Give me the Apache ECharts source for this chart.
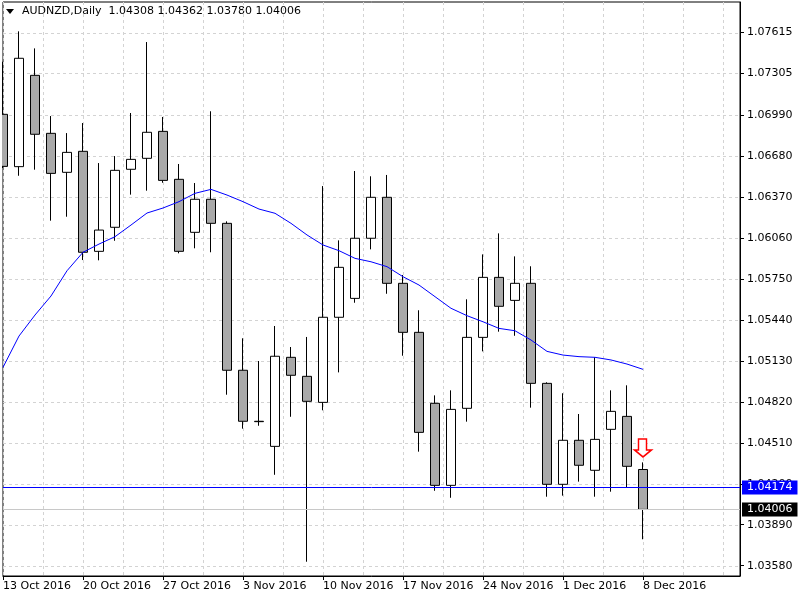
<!DOCTYPE html>
<html><head><meta charset="utf-8">
<script src="https://cdn.jsdelivr.net/npm/echarts@6/dist/echarts.min.js"></script>
<style>html,body{margin:0;padding:0;background:#fff}#c{width:800px;height:600px}</style>
</head><body><div id="c"></div>
<script>
const symbolName = 'AUDNZD';
const timeframe = 'Daily';
const dates = ['13 Oct 2016','14 Oct 2016','17 Oct 2016','18 Oct 2016','19 Oct 2016','20 Oct 2016','21 Oct 2016','24 Oct 2016','25 Oct 2016','26 Oct 2016','27 Oct 2016','28 Oct 2016','31 Oct 2016',
'1 Nov 2016','2 Nov 2016','3 Nov 2016','4 Nov 2016','7 Nov 2016','8 Nov 2016','9 Nov 2016','10 Nov 2016','11 Nov 2016','14 Nov 2016','15 Nov 2016','16 Nov 2016','17 Nov 2016','18 Nov 2016','21 Nov 2016','22 Nov 2016','23 Nov 2016','24 Nov 2016','25 Nov 2016','28 Nov 2016','29 Nov 2016','30 Nov 2016',
'1 Dec 2016','2 Dec 2016','5 Dec 2016','6 Dec 2016','7 Dec 2016','8 Dec 2016'];
const opens  = [1.06996,1.06600,1.07291,1.06852,1.06557,1.06716,1.05959,1.06141,1.06580,1.06663,1.06867,1.06504,1.06103,1.06353,1.06171,1.05059,1.04673,1.04483,1.05157,1.05013,1.04816,1.05460,1.05603,1.06058,1.06368,1.05717,1.05346,1.04809,1.04188,1.04771,1.05308,1.05762,1.05588,1.05717,1.04960,1.04196,1.04529,1.04302,1.04612,1.04710,1.04308];
const closes = [1.06602,1.07420,1.06845,1.06549,1.06708,1.05952,1.06120,1.06572,1.06655,1.06860,1.06496,1.05959,1.06353,1.06171,1.05059,1.04673,1.04670,1.05165,1.05021,1.04824,1.05460,1.05838,1.06058,1.06368,1.05717,1.05346,1.04589,1.04188,1.04763,1.05308,1.05762,1.05543,1.05717,1.04960,1.04196,1.04529,1.04340,1.04536,1.04748,1.04332,1.04006];
const highs  = [1.07394,1.07624,1.07495,1.06983,1.06854,1.06930,1.06627,1.06680,1.07006,1.07543,1.06976,1.06620,1.06476,1.07019,1.06186,1.05301,1.05129,1.05394,1.05235,1.05311,1.06453,1.06042,1.06567,1.06527,1.06537,1.05780,1.05513,1.04869,1.04907,1.05596,1.05936,1.06095,1.05921,1.05846,1.04968,1.04885,1.04728,1.05157,1.04907,1.04945,1.04362];
const lows   = [1.06590,1.06531,1.06577,1.06191,1.06221,1.05893,1.05891,1.06039,1.06388,1.06418,1.06478,1.05944,1.05982,1.05952,1.04874,1.04617,1.04639,1.04268,1.04707,1.03610,1.04756,1.05043,1.05570,1.05974,1.05638,1.05169,1.04443,1.04147,1.04094,1.04670,1.05202,1.05351,1.05320,1.04776,1.04102,1.04110,1.04216,1.04102,1.04140,1.04170,1.03780];
const maValues = [1.05081,1.05318,1.05477,1.05621,1.05812,1.05952,1.06014,1.06070,1.06158,1.06249,1.06287,1.06335,1.06398,1.06428,1.06385,1.06335,1.06279,1.06247,1.06171,1.06083,1.06007,1.05964,1.05906,1.05880,1.05843,1.05767,1.05704,1.05616,1.05528,1.05472,1.05426,1.05376,1.05358,1.05288,1.05202,1.05174,1.05162,1.05157,1.05137,1.05106,1.05066];
const priceTicks = [1.07615,1.07305,1.06990,1.06680,1.06370,1.06060,1.05750,1.05440,1.05130,1.04820,1.04510,1.04200,1.03890,1.03580];
const dateTickIndex = [0,5,10,15,20,25,30,35,40];
const levelPrice = 1.04174;
const bidPrice = 1.04006;
const signalIndex = 40;
const signalPrice = 1.04471;

const PX_PER_BAR = 16;
const GRID = {left: 3, right: 60, top: 2, bottom: 24};
const xMax = (800 - GRID.left - GRID.right) / PX_PER_BAR;
const yMin = 1.03502, yMax = 1.07846;
const FONT = 'DejaVu Sans';

const candleData = opens.map((o, i) => [i, o, closes[i], lows[i], highs[i]]);
const maData = maValues.map((v, i) => [i, v]);
const last = opens.length - 1;
const fmt = v => v.toFixed(5);
const titleText = symbolName + ',' + timeframe + '  ' + [opens[last], highs[last], lows[last], closes[last]].map(fmt).join(' ');

// horizontal price levels: [value, line colour, label background]
const priceLevels = [[bidPrice, '#c8c8c8', '#000000'], [levelPrice, '#0000ff', '#0000ff']];

const chart = echarts.init(document.getElementById('c'), null, {renderer: 'canvas'});
chart.setOption({
  animation: false,
  backgroundColor: '#fff',
  textStyle: {fontFamily: FONT},
  grid: {left: GRID.left, right: GRID.right, top: GRID.top, bottom: GRID.bottom, show: true, borderColor: '#000', borderWidth: 1, backgroundColor: '#fff'},
  xAxis: [{
    type: 'value', min: 0, max: xMax, interval: 5, position: 'bottom',
    axisLine: {show: true, onZero: false, lineStyle: {color: '#000'}},
    axisTick: {show: true, length: 4, lineStyle: {color: '#000'}, customValues: dateTickIndex},
    axisLabel: {show: true, customValues: dateTickIndex, formatter: v => dates[Math.round(v)] || '', align: 'left', margin: 5, color: '#000', fontSize: 11, fontFamily: FONT},
    splitLine: {show: false}
  }, {
    type: 'value', min: 0, max: xMax, interval: 2.5, position: 'bottom',
    axisLine: {show: false, onZero: false}, axisTick: {show: false}, axisLabel: {show: false},
    splitLine: {show: true, lineStyle: {color: '#d3d3d3', type: [3, 3], width: 1}}
  }],
  yAxis: {
    type: 'value', position: 'right', min: yMin, max: yMax, scale: true,
    axisLine: {show: true, onZero: false, lineStyle: {color: '#000'}},
    axisTick: {show: true, length: 4, lineStyle: {color: '#000'}, customValues: priceTicks},
    axisLabel: {show: true, customValues: priceTicks, formatter: v => fmt(v), margin: 7, color: '#000', fontSize: 11, fontFamily: FONT},
    splitLine: {show: false}
  },
  graphic: [
    {type: 'rect', left: 0, top: 0, z: 100, shape: {width: 2, height: 580}, style: {fill: '#fff'}},
    {type: 'polygon', left: 6, top: 9, shape: {points: [[0,0],[8,0],[4,5]]}, style: {fill: '#000'}},
    {type: 'text', left: 22, top: 6, style: {text: titleText, fill: '#000', font: '11px "DejaVu Sans"'}}
  ],
  series: [
    {
      type: 'custom', xAxisIndex: 0, yAxisIndex: 0, z: 1, silent: true, clip: false,
      data: priceTicks.map(v => [0, v]), encode: {x: 0, y: 1},
      renderItem: (params, api) => {
        const cs = params.coordSys;
        const y = Math.round(api.coord([0, api.value(1)])[1]) + 0.5;
        return {type: 'line', shape: {x1: cs.x, y1: y, x2: cs.x + cs.width, y2: y},
          style: {stroke: '#d3d3d3', lineDash: [3, 3], lineWidth: 1}};
      }
    },
    {
      type: 'candlestick', xAxisIndex: 0, yAxisIndex: 0, z: 3, barWidth: 10, clip: true,
      data: candleData,
      itemStyle: {color: '#ffffff', color0: '#a9a9a9', borderColor: '#000', borderColor0: '#000', borderColorDoji: '#000', borderWidth: 1}
    },
    {
      type: 'custom', xAxisIndex: 0, yAxisIndex: 0, z: 5, silent: true, clip: false,
      data: priceLevels.map(p => [0, p[0]]), encode: {x: 0, y: 1},
      renderItem: (params, api) => {
        const cs = params.coordSys;
        const p = priceLevels[params.dataIndex];
        const y = Math.round(api.coord([0, api.value(1)])[1]) + 0.5;
        return {type: 'group', children: [
          {type: 'line', shape: {x1: cs.x, y1: y, x2: cs.x + cs.width, y2: y}, style: {stroke: p[1], lineWidth: 1}},
          {type: 'text', x: cs.x + cs.width + 2, y: y, style: {text: fmt(api.value(1)), fill: '#fff', backgroundColor: p[2],
            padding: [2, 5, 1, 5], font: '11px "DejaVu Sans"', align: 'left', verticalAlign: 'middle'}}
        ]};
      }
    },
    {
      type: 'line', xAxisIndex: 0, yAxisIndex: 0, z: 6, data: maData, showSymbol: false, symbol: 'none',
      lineStyle: {color: '#0000ff', width: 1}, silent: true,
      markPoint: {
        silent: true, animation: false,
        data: [{coord: [signalIndex, signalPrice], symbol: 'path://M4,0 L12,0 L12,11 L17,11 L8.5,18 L0,11 L4,11 Z', symbolSize: [17, 18],
          itemStyle: {color: '#fff', borderColor: '#ff0000', borderWidth: 1.5}, label: {show: false}}]
      }
    }
  ]
});
</script>
</body></html>
